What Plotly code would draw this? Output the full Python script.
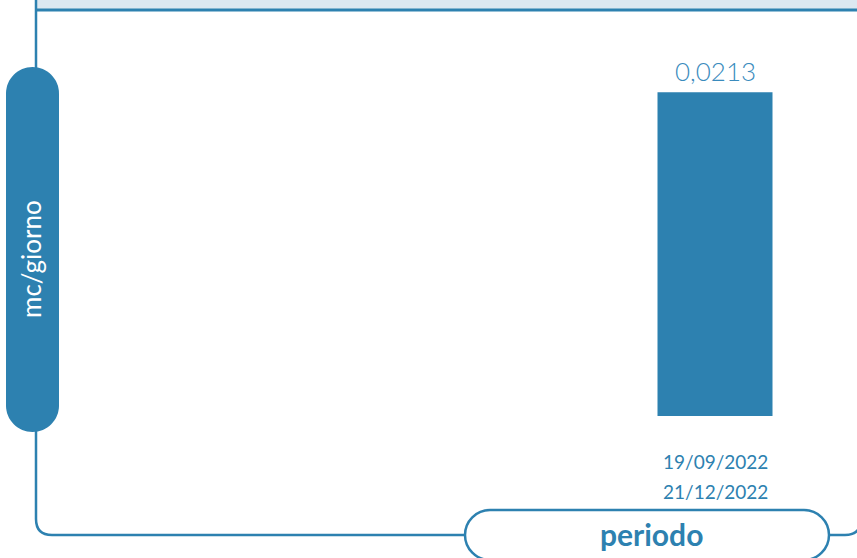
import plotly.graph_objects as go

# ---- data ----
categories = ["19/09/2022 - 21/12/2022"]
period_start = ["19/09/2022"]
period_end = ["21/12/2022"]
values = [0.0213]
value_labels = ["0,0213"]
y_title = "mc/giorno"
x_title = "periodo"

W, H = 857, 558
BLUE = "#2d81b0"
LIGHT = "#dce8f1"
FONT = "Lato"


def px(x):
    return x / W


def py(y):
    return 1 - y / H


fig = go.Figure()
fig.add_trace(go.Bar(
    x=categories, y=values, width=0.8,
    marker=dict(color=BLUE, line=dict(width=0)),
    hoverinfo="skip",
))

shapes = []
# top band
shapes.append(dict(type="rect", xref="paper", yref="paper",
                   x0=px(36), x1=px(870), y0=py(-2), y1=py(10),
                   fillcolor=LIGHT, line=dict(width=0), layer="below"))
shapes.append(dict(type="line", xref="paper", yref="paper",
                   x0=px(36), x1=px(870), y0=py(10), y1=py(10),
                   line=dict(color=BLUE, width=3)))
# frame: left line, bottom-left corner, bottom line, bottom-right corner
frame = (f"M {px(36)},{py(-2)} L {px(36)},{py(519)} "
         f"Q {px(36)},{py(535)} {px(52)},{py(535)} "
         f"L {px(845)},{py(535)} Q {px(861)},{py(535)} {px(861)},{py(519)} "
         f"L {px(861)},{py(-2)}")
shapes.append(dict(type="path", xref="paper", yref="paper", path=frame,
                   line=dict(color=BLUE, width=2.5)))


def pill(x0, y0, x1, y1, vertical):
    k = 0.5523
    if vertical:
        r = (x1 - x0) / 2
        cx = (x0 + x1) / 2
        pts = [
            f"M {px(x0)},{py(y0 + r)}",
            f"C {px(x0)},{py(y0 + r - k * r)} {px(cx - k * r)},{py(y0)} {px(cx)},{py(y0)}",
            f"C {px(cx + k * r)},{py(y0)} {px(x1)},{py(y0 + r - k * r)} {px(x1)},{py(y0 + r)}",
            f"L {px(x1)},{py(y1 - r)}",
            f"C {px(x1)},{py(y1 - r + k * r)} {px(cx + k * r)},{py(y1)} {px(cx)},{py(y1)}",
            f"C {px(cx - k * r)},{py(y1)} {px(x0)},{py(y1 - r + k * r)} {px(x0)},{py(y1 - r)}",
            "Z",
        ]
    else:
        r = (y1 - y0) / 2
        cy = (y0 + y1) / 2
        pts = [
            f"M {px(x0 + r)},{py(y0)}",
            f"L {px(x1 - r)},{py(y0)}",
            f"C {px(x1 - r + k * r)},{py(y0)} {px(x1)},{py(cy - k * r)} {px(x1)},{py(cy)}",
            f"C {px(x1)},{py(cy + k * r)} {px(x1 - r + k * r)},{py(y1)} {px(x1 - r)},{py(y1)}",
            f"L {px(x0 + r)},{py(y1)}",
            f"C {px(x0 + r - k * r)},{py(y1)} {px(x0)},{py(cy + k * r)} {px(x0)},{py(cy)}",
            f"C {px(x0)},{py(cy - k * r)} {px(x0 + r - k * r)},{py(y0)} {px(x0 + r)},{py(y0)}",
            "Z",
        ]
    return " ".join(pts)


shapes.append(dict(type="path", xref="paper", yref="paper",
                   path=pill(6, 67, 59, 432, True),
                   fillcolor=BLUE, line=dict(width=0)))
shapes.append(dict(type="path", xref="paper", yref="paper",
                   path=pill(465, 510, 829, 560, False),
                   fillcolor="white", line=dict(color=BLUE, width=2.5)))

annotations = [
    dict(text=y_title, xref="paper", yref="paper", x=px(31), y=py(259),
         showarrow=False, textangle=-90, xanchor="center", yanchor="middle",
         font=dict(family=FONT, size=26, color="white")),
    dict(text=f"<b>{x_title}</b>", xref="paper", yref="paper", x=px(651), y=py(534),
         showarrow=False, xanchor="center", yanchor="middle",
         font=dict(family=FONT, size=30, color=BLUE)),
]
for cat, v, lab in zip(categories, values, value_labels):
    annotations.append(dict(text=lab, x=cat, y=v, xref="x", yref="y",
                            showarrow=False, xanchor="center", yanchor="middle",
                            yshift=21,
                            font=dict(family=FONT, size=26, color="#3a8bbd", weight=300)))
for cat, s, e in zip(categories, period_start, period_end):
    annotations.append(dict(text=s, x=cat, xref="x", yref="paper", y=py(461),
                            showarrow=False, xanchor="center", yanchor="middle",
                            font=dict(family=FONT, size=19, color=BLUE)))
    annotations.append(dict(text=e, x=cat, xref="x", yref="paper", y=py(491),
                            showarrow=False, xanchor="center", yanchor="middle",
                            font=dict(family=FONT, size=19, color=BLUE)))

bar_px_per_unit = 115 / 0.8
fig.update_layout(
    width=W, height=H,
    margin=dict(l=0, r=0, t=0, b=0),
    paper_bgcolor="white", plot_bgcolor="white",
    showlegend=False,
    shapes=shapes, annotations=annotations,
    xaxis=dict(type="category", domain=[0, 1],
               range=[-715 / bar_px_per_unit, 142 / bar_px_per_unit],
               showticklabels=False, showgrid=False, zeroline=False, showline=False,
               fixedrange=True),
    yaxis=dict(domain=[py(416), py(36)], range=[0, 0.025],
               showticklabels=False, showgrid=False, zeroline=False, showline=False,
               fixedrange=True),
)

fig.write_html("out.html", config=dict(displayModeBar=False))
